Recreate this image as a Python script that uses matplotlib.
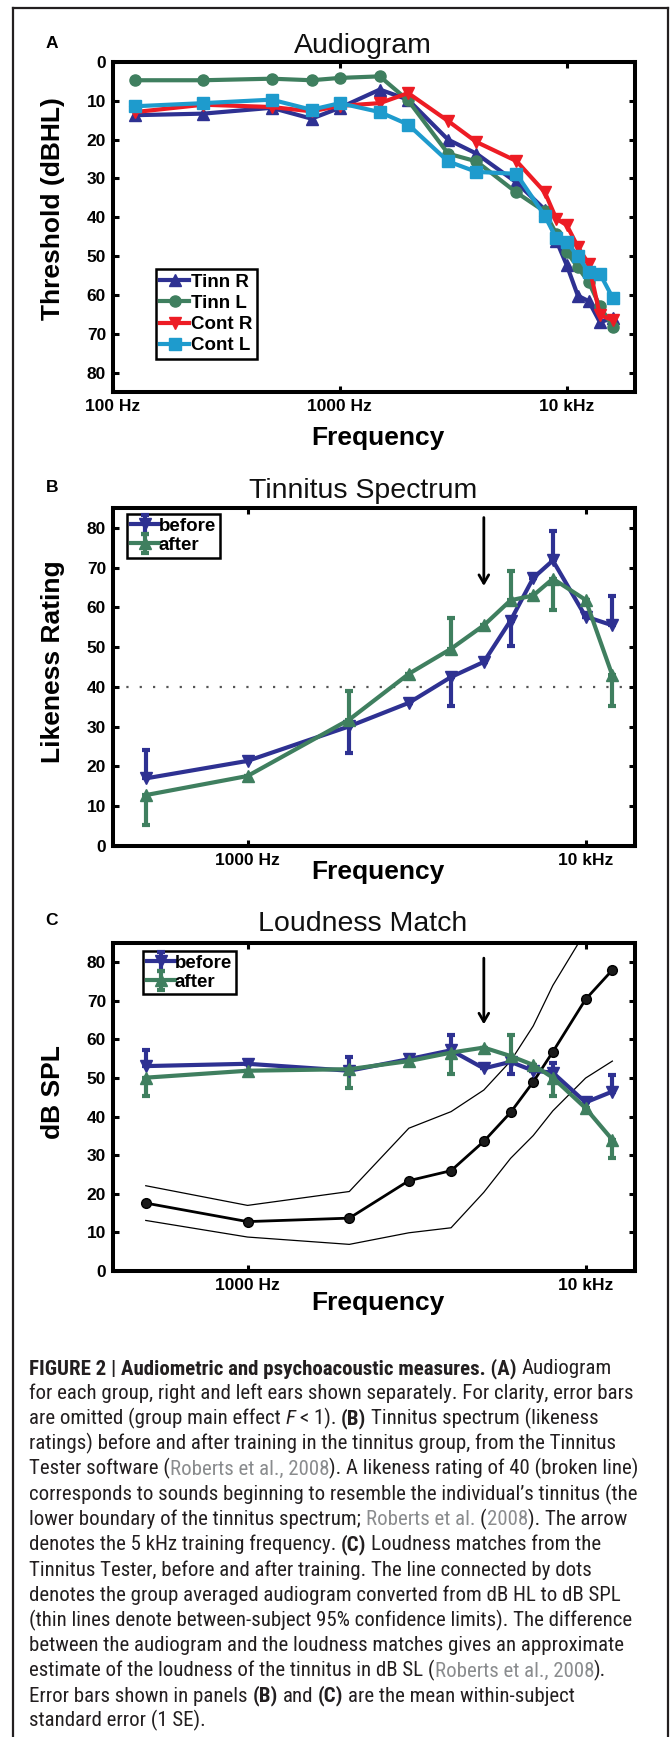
import matplotlib
matplotlib.use("Agg")
import matplotlib.pyplot as plt
from matplotlib import font_manager
from matplotlib.lines import Line2D

# ---- panel A: audiogram (dB HL) ----
aud_freq = [125, 250, 500, 750, 1000, 1500, 2000, 3000, 4000, 6000,
            8000, 9000, 10000, 11200, 12500, 14000, 16000]
tinn_r = [13.7, 13.3, 11.8, 14.6, 11.8, 7.1, 9.7, 20.0, 23.6, 31.0,
          38.0, 46.0, 52.3, 60.2, 61.6, 67.0, 66.0]
tinn_l = [4.7, 4.7, 4.3, 4.7, 4.1, 3.7, 9.9, 23.6, 25.6, 33.6,
          38.5, 44.3, 48.9, 52.9, 56.7, 62.9, 68.3]
cont_r = [12.9, 11.0, 11.6, 12.7, 11.3, 10.6, 8.0, 15.2, 20.6, 25.5,
          33.5, 40.4, 42.0, 47.6, 52.0, 65.2, 66.5]
cont_l = [11.4, 10.6, 9.7, 12.3, 10.6, 12.9, 16.1, 25.6, 28.3, 28.8,
          39.6, 45.4, 46.4, 50.0, 54.1, 54.5, 60.9]

# ---- panels B and C: tinnitus tester ----
tt_freq = [500, 1000, 2000, 3000, 4000, 5000, 6000, 7000, 8000, 10000, 12000]
arrow_freq = 5000

like_before = [17.0, 21.4, 30.1, 36.0, 42.5, 46.3, 56.7, 67.4, 71.8, 57.7, 55.5]
like_before_lo = [0, 0, 6.8, 0, 7.4, 0, 6.5, 0, 0, 0, 0]
like_before_hi = [7.1, 0, 0, 0, 0, 0, 0, 0, 7.5, 0, 7.3]
like_after = [12.8, 17.6, 31.8, 43.3, 49.6, 55.5, 61.8, 63.0, 67.2, 61.9, 42.9]
like_after_lo = [7.5, 0, 0, 0, 0, 0, 0, 0, 7.8, 0, 7.8]
like_after_hi = [0, 0, 7.2, 0, 7.7, 0, 7.3, 0, 0, 0, 0]

loud_before = [53.1, 53.7, 51.9, 54.9, 57.2, 52.5, 54.2, 51.9, 51.4, 43.7, 46.5]
loud_before_lo = [0, 0, 0, 0, 0, 0, 3.2, 0, 0, 0, 0]
loud_before_hi = [4.1, 0, 3.6, 0, 4.0, 0, 0, 0, 2.6, 0, 4.2]
loud_after = [50.1, 51.9, 52.3, 54.4, 56.6, 57.9, 55.7, 53.4, 50.1, 42.2, 34.0]
loud_after_lo = [4.7, 0, 4.8, 0, 5.6, 0, 0, 0, 4.7, 0, 4.8]
loud_after_hi = [0, 0, 0, 0, 0, 0, 5.5, 0, 0, 0, 0]

aud_spl = [17.6, 12.8, 13.7, 23.4, 26.0, 33.6, 41.1, 49.0, 56.8, 70.4, 78.0]
aud_spl_upper = [22.1, 17.0, 20.6, 37.0, 41.3, 46.9, 54.4, 63.5, 74.0, 88.0, 96.0]
aud_spl_lower = [13.1, 8.8, 6.9, 9.9, 11.2, 20.4, 29.2, 35.1, 41.5, 50.0, 54.4]

BLUE = "#2e3192"
GREEN = "#3f7f5f"
RED = "#ed1c24"
CYAN = "#1e9bcd"
TXT = "#231f20"
CITE = "#8a8c8e"

fonts = font_manager.fontManager.ttflist
names = {f.name for f in fonts}
SANS = "Liberation Sans" if "Liberation Sans" in names else "DejaVu Sans"
# a condensed face for the caption, if one is installed
NARROW, STRETCH = SANS, "normal"
for cand in ["Liberation Sans Narrow", "Roboto Condensed", "Open Sans Condensed"]:
    if cand in names:
        NARROW = cand
        break
else:
    if any(f.name == "DejaVu Sans" and f.stretch in ("condensed", 400 - 100)
           for f in fonts):
        NARROW, STRETCH = "DejaVu Sans", "condensed"
plt.rcParams["font.family"] = [SANS, "DejaVu Sans"]

W, H = 671, 1737
fig = plt.figure(figsize=(W / 100, H / 100), dpi=100)


def add_panel(top, bottom):
    ax = fig.add_axes([113 / W, 1 - bottom / H, (635 - 113) / W, (bottom - top) / H])
    for s in ax.spines.values():
        s.set_linewidth(2.9)
    ax.tick_params(which="major", direction="in", length=4, width=2.2,
                   top=True, right=True, labelsize=12.5, pad=5)
    ax.tick_params(which="minor", length=0)
    return ax


def style_ticks(ax):
    for lab in ax.get_xticklabels() + ax.get_yticklabels():
        lab.set_fontweight("bold")


def panel_text(letter, title, ylabel, title_base, ylab_y, xlab_y):
    fig.text(52 / W, 1 - (title_base - 10) / H, letter, fontsize=12.5,
             fontweight="bold", ha="center", va="center")
    fig.text(363 / W, 1 - title_base / H, title, fontsize=20.5,
             ha="center", va="baseline", color="#111111")
    fig.text(53 / W, 1 - ylab_y / H, ylabel, fontsize=19, fontweight="bold",
             rotation=90, ha="center", va="center")
    fig.text(378 / W, 1 - xlab_y / H, "Frequency", fontsize=19,
             fontweight="bold", ha="center", va="center")


# ---------- A ----------
axA = add_panel(62, 392)
axA.set_xscale("log")
axA.set_xlim(100, 20000)
axA.set_ylim(85, 0)
axA.set_yticks(range(0, 81, 10))
axA.set_xticks([100, 1000, 10000])
axA.set_xticklabels(["100 Hz", "1000 Hz", "10 kHz"])
axA.plot(aud_freq, tinn_r, color=BLUE, marker="^", ms=9, lw=3, label="Tinn R", clip_on=False)
axA.plot(aud_freq, tinn_l, color=GREEN, marker="o", ms=8, lw=3, label="Tinn L", clip_on=False)
axA.plot(aud_freq, cont_r, color=RED, marker="v", ms=9, lw=3, label="Cont R", clip_on=False)
axA.plot(aud_freq, cont_l, color=CYAN, marker="s", ms=8, lw=3, label="Cont L", clip_on=False)
legA = axA.legend(loc="upper left", bbox_to_anchor=(0.082, 0.373), borderaxespad=0,
                  prop=dict(family=SANS, weight="bold", size=13.5), fancybox=False,
                  edgecolor="black", framealpha=1, handlelength=1.5, handletextpad=0.15,
                  labelspacing=0.22, borderpad=0.25)
legA.get_frame().set_linewidth(1.8)
style_ticks(axA)
panel_text("A", "Audiogram", "Threshold (dBHL)", 53, 209, 438)


def tt_panel(ax, before, b_lo, b_hi, after, a_lo, a_hi, arrow_top, arrow_tip):
    ax.set_xscale("log")
    ax.set_xlim(400, 14000)
    ax.set_ylim(0, 85)
    ax.set_yticks(range(0, 81, 10))
    ax.set_xticks([1000, 10000])
    ax.set_xticklabels(["1000 Hz", "10 kHz"])
    ekw = dict(lw=3, ms=9, elinewidth=3, capsize=3, capthick=3, clip_on=False)
    ax.errorbar(tt_freq, before, yerr=[b_lo, b_hi], color=BLUE, marker="v",
                label="before", **ekw)
    ax.errorbar(tt_freq, after, yerr=[a_lo, a_hi], color=GREEN, marker="^",
                label="after", **ekw)
    ax.annotate("", xy=(arrow_freq, arrow_tip), xytext=(arrow_freq, arrow_top),
                arrowprops=dict(arrowstyle="->,head_length=0.6,head_width=0.35",
                                lw=2, color="black"))


def tt_legend(ax, anchor):
    leg = ax.legend(loc="upper left", bbox_to_anchor=anchor, borderaxespad=0,
                    prop=dict(family=SANS, weight="bold", size=13.5), fancybox=False,
                    edgecolor="black", framealpha=1, handlelength=1.5,
                    handletextpad=0.0, labelspacing=0.1, borderpad=0.2)
    leg.get_frame().set_linewidth(1.8)


# ---------- B ----------
axB = add_panel(508, 846)
axB.axhline(40, color="#555555", lw=1.6, ls=(0, (1, 5)), zorder=1)
tt_panel(axB, like_before, like_before_lo, like_before_hi,
         like_after, like_after_lo, like_after_hi, 83.3, 64.7)
tt_legend(axB, (0.027, 0.982))
style_ticks(axB)
panel_text("B", "Tinnitus Spectrum", "Likeness Rating", 498, 662, 872)

# ---------- C ----------
axC = add_panel(943, 1271)
axC.plot(tt_freq, aud_spl_upper, color="black", lw=0.9)
axC.plot(tt_freq, aud_spl_lower, color="black", lw=0.9)
axC.plot(tt_freq, aud_spl, color="black", lw=2, marker="o", ms=7,
         markerfacecolor="#1a1a1a", clip_on=False)
tt_panel(axC, loud_before, loud_before_lo, loud_before_hi,
         loud_after, loud_after_lo, loud_after_hi, 81.8, 63.2)
tt_legend(axC, (0.057, 0.976))
style_ticks(axC)
panel_text("C", "Loudness Match", "dB SPL", 931, 1092, 1303)

# ---------- outer frame ----------
for xs, ys in [((13, 13), (8, H)), ((13, 668), (8, 8)), ((668, 668), (8, H))]:
    fig.add_artist(Line2D([x / W for x in xs], [1 - y / H for y in ys],
                          color="#231f20", lw=1.6))

# ---------- caption ----------
N, B_, I_, G_ = "n", "b", "i", "g"
caption = [
    [("FIGURE 2 | Audiometric and psychoacoustic measures. (A)", B_), (" Audiogram", N)],
    [("for each group, right and left ears shown separately. For clarity, error bars", N)],
    [("are omitted (group main effect ", N), ("F", I_), (" < 1). ", N), ("(B)", B_),
     (" Tinnitus spectrum (likeness", N)],
    [("ratings) before and after training in the tinnitus group, from the Tinnitus", N)],
    [("Tester software (", N), ("Roberts et al., 2008", G_),
     ("). A likeness rating of 40 (broken line)", N)],
    [("corresponds to sounds beginning to resemble the individual\u2019s tinnitus (the", N)],
    [("lower boundary of the tinnitus spectrum; ", N), ("Roberts et al.", G_), (" (", N),
     ("2008", G_), ("). The arrow", N)],
    [("denotes the 5 kHz training frequency. ", N), ("(C)", B_),
     (" Loudness matches from the", N)],
    [("Tinnitus Tester, before and after training. The line connected by dots", N)],
    [("denotes the group averaged audiogram converted from dB HL to dB SPL", N)],
    [("(thin lines denote between-subject 95% confidence limits). The difference", N)],
    [("between the audiogram and the loudness matches gives an approximate", N)],
    [("estimate of the loudness of the tinnitus in dB SL (", N), ("Roberts et al., 2008", G_),
     (").", N)],
    [("Error bars shown in panels ", N), ("(B)", B_), (" and ", N), ("(C)", B_),
     (" are the mean within-subject", N)],
    [("standard error (1 SE).", N)],
]

renderer = fig.canvas.get_renderer()


def props(kind, size):
    return dict(family=[NARROW, "DejaVu Sans"], fontsize=size, fontstretch=STRETCH,
                fontweight="bold" if kind == B_ else "normal",
                fontstyle="italic" if kind == I_ else "normal",
                color=CITE if kind == G_ else TXT)


def width_px(s, kind, size):
    t = fig.text(0, 0, s, **props(kind, size))
    w = t.get_window_extent(renderer).width
    t.remove()
    return w


# fit the caption size to the width of the second line
probe = width_px(caption[1][0][0], N, 10)
cap_size = 10 * 602 / probe

y0, dy = 1374, 25.2
for i, line in enumerate(caption):
    x = 29.0
    y = 1 - (y0 + i * dy) / H
    for s, kind in line:
        sp = width_px("a a", kind, cap_size) - width_px("aa", kind, cap_size)
        lead = len(s) - len(s.lstrip(" "))
        trail = len(s) - len(s.rstrip(" "))
        x += lead * sp
        core = s.strip(" ")
        t = fig.text(x / W, y, core, va="baseline", **props(kind, cap_size))
        x += t.get_window_extent(renderer).width + trail * sp

fig.savefig("out.png", dpi=100)
